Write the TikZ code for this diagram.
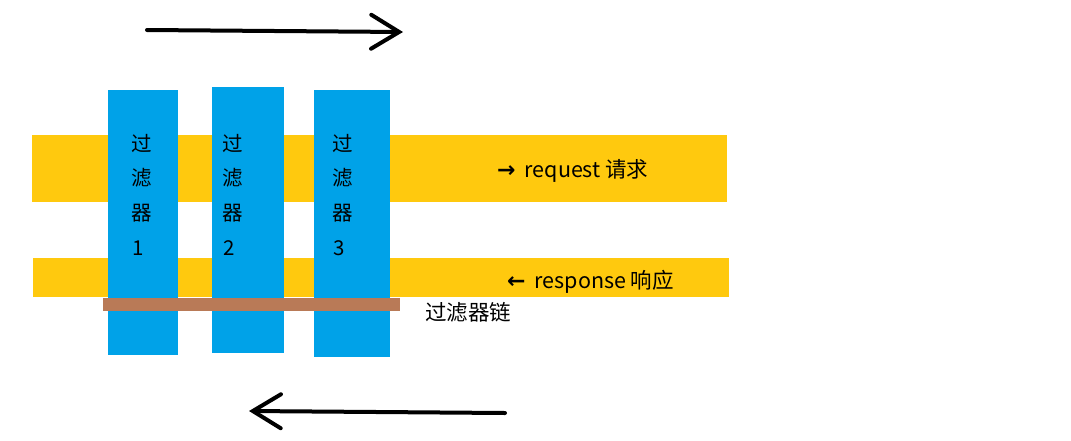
\documentclass[tikz,border=0pt]{standalone}
\usepackage{fontspec}
\setmainfont{Noto Sans CJK SC}
\newfontfamily\arrowfont{DejaVu Sans}
\usetikzlibrary{arrows.meta}
\definecolor{bandyellow}{HTML}{FFC90E}
\definecolor{filterblue}{HTML}{00A2E8}
\definecolor{chainbrown}{HTML}{B97A57}
\tikzset{
  band/.style={fill=bandyellow, draw=none},
  filterbox/.style={fill=filterblue, draw=none},
  chain/.style={fill=chainbrown, draw=none},
  flowarrow/.style={line width=4pt, line cap=round, -{Straight Barb[length=28pt, width=34pt, line width=4pt, line cap=round]}},
  colchar/.style={font=\fontsize{20.5}{20.5}\selectfont, inner sep=0pt, anchor=center},
  label/.style={font=\fontsize{21.5}{21.5}\selectfont, inner sep=0pt, anchor=west}
}
\newcommand{\heavyarrow}[1]{{\arrowfont\bfseries\fontsize{22}{22}\selectfont #1}\hspace{9pt}}
\begin{document}
\begin{tikzpicture}[x=1pt,y=-1pt]
\useasboundingbox (0,0) rectangle (1071,440);
% bands
\path[band] (32,135) rectangle (727,202);
\path[band] (33,258) rectangle (729,297);
% filters
\path[filterbox] (108,90) rectangle (178,355);
\path[filterbox] (212,87) rectangle (284,353);
\path[filterbox] (314,90) rectangle (390,357);
% chain
\path[chain] (103,298) rectangle (400,311);
% column texts
\foreach \cx/\n [count=\i] in {142/1, 233/2, 343/3}{
  \node[colchar] (c\i a) at (\cx,143) {过};
  \node[colchar] (c\i b) at (\cx,178) {滤};
  \node[colchar] (c\i c) at (\cx,213) {器};
  \node[colchar] (c\i d) at (\cx-4,248) {\n};
}
\node[label] (req) at (497,171) {\heavyarrow{→}request 请求};
\node[label] (resp) at (507,282) {\heavyarrow{←}response 响应};
\node[label] (chn) at (425,312) {过滤器链};
% arrows
\coordinate (t1) at (147,30);
\coordinate (t2) at (403,32);
\coordinate (b1) at (505,413);
\coordinate (b2) at (249,411);
\draw[flowarrow] (t1) -- (t2);
\draw[flowarrow] (b1) -- (b2);
\end{tikzpicture}
\end{document}
